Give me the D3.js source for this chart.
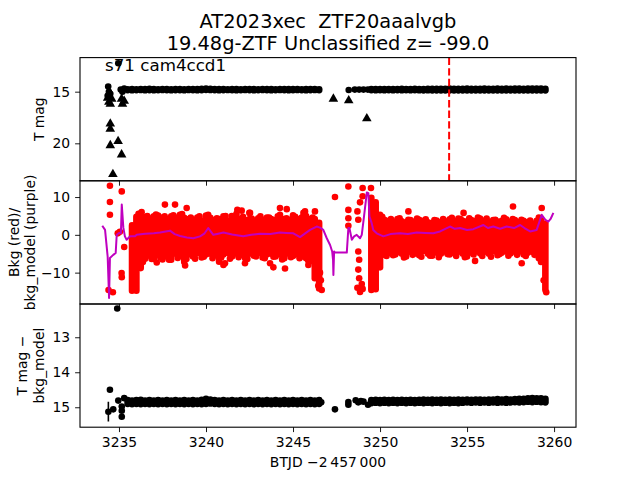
<!DOCTYPE html>
<html><head><meta charset="utf-8">
<script src="https://cdn.jsdelivr.net/npm/d3@7"></script>
<style>body{margin:0;background:#fff}svg{display:block}text{font-family:"DejaVu Sans",sans-serif;fill:#000;white-space:pre}</style>
</head><body><svg id="c" width="640" height="480"></svg>
<script>
// ---------- data ----------
const seg1T = [3235.5,3235.75,3236,3236.25,3236.5,3236.75,3237,3237.25,3237.5,3237.75,
 3238,3238.25,3238.5,3238.75,3239,3239.25,3239.5,3239.75,3240,3240.25,
 3240.5,3240.75,3241,3241.25,3241.5,3241.75,3242,3242.25,3242.5,3242.75,
 3243,3243.25,3243.5,3243.75,3244,3244.25,3244.5,3244.75,3245,3245.25,
 3245.5,3245.75,3246,3246.25,3246.5];
const seg2T = [3249.5,3249.75,3250,3250.25,3250.5,3250.75,3251,3251.25,3251.5,3251.75,
 3252,3252.25,3252.5,3252.75,3253,3253.25,3253.5,3253.75,3254,3254.25,
 3254.5,3254.75,3255,3255.25,3255.5,3255.75,3256,3256.25,3256.5,3256.75,
 3257,3257.25,3257.5,3257.75,3258,3258.25,3258.5,3258.75,3259,3259.25,3259.5];

// Panel 1: T mag band (bright edge / faint edge)
const tmag1Lo = [14.77,14.76,14.77,14.75,14.76,14.74,14.76,14.77,14.75,14.76,
 14.77,14.76,14.75,14.77,14.76,14.76,14.75,14.74,14.70,14.72,
 14.76,14.75,14.76,14.77,14.75,14.76,14.77,14.76,14.75,14.76,
 14.77,14.76,14.75,14.76,14.77,14.75,14.76,14.76,14.75,14.76,
 14.77,14.76,14.75,14.76,14.77];
const tmag1Hi = [14.84,14.85,14.84,14.83,14.85,14.84,14.85,14.84,14.83,14.84,
 14.85,14.84,14.84,14.85,14.83,14.84,14.85,14.84,14.82,14.83,
 14.84,14.85,14.84,14.83,14.84,14.85,14.84,14.83,14.84,14.85,
 14.84,14.83,14.84,14.85,14.84,14.83,14.84,14.85,14.84,14.83,
 14.84,14.85,14.84,14.83,14.84];
const tmag2Lo = [14.75,14.76,14.75,14.76,14.75,14.76,14.75,14.74,14.76,14.75,
 14.74,14.76,14.75,14.74,14.73,14.72,14.73,14.72,14.71,14.72,
 14.73,14.72,14.71,14.72,14.73,14.72,14.71,14.72,14.73,14.71,
 14.72,14.71,14.72,14.70,14.71,14.72,14.70,14.71,14.70,14.71,14.72];
const tmag2Hi = [14.84,14.85,14.84,14.85,14.84,14.85,14.84,14.85,14.84,14.85,
 14.84,14.85,14.86,14.85,14.86,14.87,14.86,14.87,14.86,14.87,
 14.86,14.87,14.86,14.87,14.86,14.87,14.86,14.87,14.86,14.87,
 14.86,14.87,14.86,14.87,14.86,14.87,14.86,14.87,14.86,14.87,14.86];
const tmagDetT = [3234.38,3234.42,3234.5,3234.35,3234.96,3235.1,3235.2,3235.3,3248.2,3248.55,3248.8,3249.05,3249.3];
const tmagDetV = [14.5,15.0,15.2,15.4,12.25,14.8,15.0,14.7,14.84,14.8,14.8,14.8,14.8];
const limitT = [3234.35,3234.42,3234.5,3234.58,3235.15,3235.2,3235.3,3234.5,3234.5,3234.5,3234.95,3235.15,3234.65,3247.32,3248.2,3249.24];
const limitV = [15.6,16.0,16.2,15.7,15.7,16.2,15.9,18.1,18.6,20.2,19.8,21.1,23.0,15.7,15.85,17.6];
const markerT = 3253.97;

// Panel 2: background flux (red) envelope and outliers, model (purple)
const bkg1Lo = [null,-14.8,-14.8,-8.8,-6.3,-5.5,-6.4,-5.2,-6.5,-5.7,
 -6.6,-5.0,-5.5,-7.2,-5.2,-5.7,-4.8,-6.0,-5.2,-5.0,
 -5.4,-7.1,-5.2,-4.8,-5.7,-5.0,-5.2,-6.2,-5.0,-5.5,
 -4.8,-6.0,-5.2,-5.0,-5.7,-5.2,-6.2,-5.0,-5.6,-5.2,
 -5.7,-6.2,-7.0,-11.5,-14.2];
const bkg1Hi = [null,2.5,4.8,5.2,4.7,4.4,4.9,5.1,4.6,4.2,
 4.9,4.6,5.3,4.5,4.2,4.0,4.6,3.8,5.1,4.5,
 3.9,4.2,4.9,3.8,4.2,5.6,4.2,3.9,4.2,3.8,
 4.4,4.0,4.6,4.2,3.9,5.3,4.2,4.0,5.2,4.2,
 4.6,5.0,4.2,4.2,3.2];
const bkg2Lo = [-14.6,-14.4,-8.6,-5.3,-4.8,-5.4,-4.6,-5.0,-5.7,-4.5,
 -4.9,-5.4,-4.3,-5.0,-5.5,-4.7,-5.0,-4.4,-5.2,-4.8,
 -4.5,-5.0,-5.7,-4.7,-4.4,-4.9,-4.5,-5.0,-4.4,-5.4,
 -4.7,-4.4,-4.9,-4.5,-4.4,-5.2,-4.7,-4.5,-4.9,-7.2,-14.5];
const bkg2Hi = [9.8,8.6,5.3,4.0,3.7,3.5,4.2,3.6,3.3,3.9,
 3.5,4.0,3.7,3.3,3.2,3.8,3.4,3.6,4.1,3.6,
 4.3,3.7,3.6,3.9,3.7,4.3,3.8,3.4,3.9,3.5,
 3.7,4.1,3.5,3.9,3.4,3.7,3.4,3.0,3.7,3.9,3.0];
const bkgPtT = [3234.48,3234.48,3234.48,3235.16,3234.93,3235.05,3235.3,3234.4,3234.65,3235.15,3235.16,
 3236.3,3237.64,3238.22,3238.89,3241.48,3241.8,3242.05,3242.49,3242.53,3244.25,3244.64,3245.6,3245.69,3246.26,
 3237.17,3238.8,3241.0,3241.09,3242.24,3243.68,3243.87,3244.54,3245.88,
 3246.45,3246.55,3246.6,3246.65,
 3247.41,3248.18,3248.18,3248.18,3248.18,3248.85,3248.7,3248.75,3248.75,3248.8,3248.75,3248.8,3248.7,3248.85,3249.0,3248.95,3249.0,3249.0,3249.48,
 3251.63,3254.8,3257.64,3259.29,3258.14,3255.46,3259.4,3259.55];
const bkgPtV = [13.0,8.7,5.3,11.5,0.4,0.8,-3.2,-14.6,-15.2,-10.1,-11.2,
 6.0,8.0,8.0,7.1,5.0,6.6,6.4,5.8,5.8,7.1,6.8,5.8,6.2,6.2,
 -7.3,-8.1,-8.0,-7.5,-7.5,-7.5,-8.6,-8.9,-8.0,
 -13.5,-10.0,-12.0,-14.6,
 10.0,12.8,6.6,4.4,2.4,8.6,6.2,4.0,-4.4,-6.6,-9.2,-11.5,-14.0,-15.1,-14.3,-13.0,12.4,10.2,12.4,
 6.2,5.8,7.5,7.1,-7.5,-6.9,-12.0,-15.2];
// points along the ragged band edges
const bkgEdgeT = [3236.125,3236.625,3237.125,3237.625,3238.125,3238.625,3239.125,3239.625,3240.125,3240.625,3241.125,3241.625,3242.125,3242.625,3243.125,3243.625,3244.125,3244.625,3245.125,3245.625,3246.125,
 3236.375,3236.875,3237.375,3237.875,3238.375,3238.875,3239.375,3239.875,3240.375,3240.875,3241.375,3241.875,3242.375,3242.875,3243.375,3243.875,3244.375,3244.875,3245.375,3245.875,
 3250.125,3250.625,3251.125,3251.625,3252.125,3252.625,3253.125,3253.625,3254.125,3254.625,3255.125,3255.625,3256.125,3256.625,3257.125,3257.625,3258.125,3258.625,3259.125,
 3250.375,3250.875,3251.375,3251.875,3252.375,3252.875,3253.375,3253.875,3254.375,3254.875,3255.375,3255.875,3256.375,3256.875,3257.375,3257.875,3258.375,3258.875,3259.125];
const bkgEdgeV = [5.6,5.0,5.4,4.9,5.2,5.5,4.6,4.9,5.3,4.4,5.0,4.7,4.8,4.3,4.9,4.6,4.9,4.4,4.8,5.2,4.6,
 -7.2,-6.4,-6.0,-6.6,-6.1,-6.4,-6.3,-5.8,-6.2,-6.0,-6.3,-5.9,-6.4,-5.7,-6.2,-5.8,-6.5,-5.9,-6.2,-6.8,
 4.8,4.2,4.4,4.0,4.3,4.1,3.9,4.2,4.5,4.2,4.4,4.6,4.3,4.0,4.5,4.2,4.0,3.8,4.6,
 -5.6,-5.2,-6.0,-5.3,-5.8,-5.5,-5.9,-5.1,-5.6,-5.9,-5.2,-5.6,-5.8,-5.1,-5.5,-5.3,-5.6,-5.3,-6.2];
const modelT = [3234.04,3234.2,3234.35,3234.43,3234.48,3234.67,3234.81,3234.87,3235.0,3235.11,3235.16,3235.25,3235.34,3235.44,3235.63,3235.92,
 3236.02,3236.5,3237.0,3237.36,3237.93,3238.2,3238.51,3238.9,3239.27,3239.66,3239.9,3240.13,3240.42,3240.7,3241.0,3241.5,3242.14,3242.6,3243.1,3243.7,3244.25,3244.6,3245.02,3245.4,3245.98,3246.36,3246.55,3246.74,3246.94,3247.13,3247.25,3247.3,3247.32,3247.36,3247.41,3248.09,3248.18,3248.24,3248.38,3248.51,3248.66,3248.85,3248.95,3249.08,3249.24,3249.33,3249.39,3249.52,3249.61,3249.81,
 3250.19,3250.6,3251.15,3251.6,3252.11,3252.6,3253.06,3253.45,3254.02,3254.3,3254.6,3255.0,3255.36,3255.94,3256.2,3256.51,3256.9,3257.28,3257.7,3258.05,3258.3,3258.62,3259.0,3259.29,3259.5,3259.67,3259.8,3259.96];
const modelV = [2.4,1.3,-5.8,-16.7,-6.1,-5.3,-4.8,0,0.5,0.4,8.0,1.9,-0.4,-1.3,-0.4,-0.4,
 0,0.3,0.4,0.6,1.1,0.2,-0.3,-0.7,-0.9,-0.4,0.3,1.8,0,0.3,0.6,0.1,-0.4,0,0.3,0.2,0.6,0.5,0.4,-0.6,1.3,2.2,1.9,1.3,-0.9,-2.7,-4.4,-6.6,-10.6,-4.4,-4.7,-4.7,1.8,1.8,-1.3,-0.4,0,-0.9,0,4.9,11.2,11.0,4.9,3.1,1.3,0.4,
 -0.4,0.2,0.4,0.2,0.6,0.5,0.4,0.9,2.2,1.6,1.8,1.3,1.5,2.6,1.8,2.2,1.6,2.2,1.8,2.6,1.8,0.9,1.3,5.3,4.0,3.5,4.2,5.8];

// Panel 3: T mag - bkg_model
const diff1Lo = [14.80,14.81,14.80,14.79,14.81,14.80,14.81,14.80,14.81,14.80,
 14.81,14.80,14.81,14.80,14.81,14.80,14.81,14.79,14.76,14.78,
 14.80,14.81,14.80,14.81,14.80,14.81,14.80,14.81,14.80,14.81,
 14.80,14.81,14.80,14.81,14.80,14.81,14.80,14.81,14.80,14.81,
 14.80,14.81,14.80,14.81,14.80];
const diff1Hi = [14.90,14.91,14.90,14.91,14.90,14.91,14.90,14.91,14.90,14.91,
 14.90,14.91,14.90,14.91,14.90,14.91,14.90,14.91,14.90,14.89,
 14.90,14.91,14.90,14.91,14.90,14.91,14.90,14.91,14.90,14.91,
 14.90,14.91,14.90,14.91,14.90,14.91,14.90,14.91,14.90,14.91,
 14.90,14.91,14.90,14.91,14.90];
const diff2Lo = [14.80,14.79,14.80,14.79,14.80,14.79,14.80,14.79,14.80,14.79,
 14.80,14.79,14.78,14.79,14.78,14.79,14.78,14.79,14.78,14.79,
 14.78,14.79,14.78,14.79,14.78,14.78,14.79,14.78,14.78,14.77,
 14.78,14.77,14.78,14.77,14.76,14.76,14.75,14.74,14.75,14.75,14.76];
const diff2Hi = [14.88,14.87,14.88,14.87,14.88,14.87,14.88,14.87,14.88,14.87,
 14.88,14.87,14.88,14.87,14.88,14.87,14.88,14.87,14.88,14.87,
 14.88,14.87,14.86,14.87,14.86,14.87,14.86,14.87,14.86,14.87,
 14.86,14.87,14.86,14.85,14.86,14.85,14.84,14.85,14.84,14.85,14.86];
const diffPtT = [3234.39,3234.48,3234.67,3234.9,3234.96,3235.16,3235.16,3235.16,3235.3,3246.62,3247.41,3248.18,3248.18,3248.6,3248.75,3248.9,3249.05,3249.31];
const diffPtV = [15.13,14.5,15.06,12.18,14.81,14.98,15.1,15.27,14.74,14.86,15.06,14.85,14.93,14.8,14.86,14.82,14.84,14.93];
const errT = [3234.39], errLo = [14.84], errHi = [15.41];

const xTicks = [3235,3240,3245,3250,3255,3260];
const y1Ticks = [15,20], y2Ticks = [-10,0,10], y3Ticks = [13,14,15];
const titleLines = ["AT2023xec  ZTF20aaalvgb", "19.48g-ZTF Unclassified z= -99.0"];
const panelText = "s71 cam4ccd1";

// ---------- layout ----------
const L = 80, R = 576, T1 = 57.6, B1 = 180.8, B2 = 304.0, B3 = 427.2;
const svg = d3.select("#c");
const x = d3.scaleLinear().domain([3232.76, 3261.26]).range([L, R]);
const y1 = d3.scaleLinear().domain([11.7, 23.63]).range([T1, B1]);
const y2 = d3.scaleLinear().domain([-18.3, 14.3]).range([B2, B1]);
const y3 = d3.scaleLinear().domain([12.05, 15.57]).range([B2, B3]);
const fmt = d => String(d).replace("-", "\u2212");

const defs = svg.append("defs");
[[T1,B1],[B1,B2],[B2,B3]].forEach((p,i)=>{
  defs.append("clipPath").attr("id","cp"+i).append("rect")
    .attr("x",L).attr("y",p[0]).attr("width",R-L).attr("height",p[1]-p[0]);
});
const g1 = svg.append("g").attr("clip-path","url(#cp0)");
const g2 = svg.append("g").attr("clip-path","url(#cp1)");
const g3 = svg.append("g").attr("clip-path","url(#cp2)");

function band(g, ts, lo, hi, ys, color, w){
  ts.forEach((t,i)=>{
    if(lo[i]==null) return;
    g.append("line").attr("x1",x(t)).attr("x2",x(t))
      .attr("y1",ys(lo[i])).attr("y2",ys(hi[i]))
      .attr("stroke",color).attr("stroke-width",w).attr("stroke-linecap","round");
  });
}
function dots(g, ts, vs, ys, color, r){
  g.selectAll(null).data(ts).enter().append("circle")
    .attr("cx",(d)=>x(d)).attr("cy",(d,i)=>ys(vs[i])).attr("r",r).attr("fill",color);
}

// panel 1
band(g1, seg1T, tmag1Lo, tmag1Hi, y1, "#000", 6.8);
band(g1, seg2T, tmag2Lo, tmag2Hi, y1, "#000", 6.8);
dots(g1, tmagDetT, tmagDetV, y1, "#000", 3.3);
const tri = d3.symbol().type(d3.symbolTriangle).size(40);
g1.selectAll(null).data(limitT).enter().append("path")
  .attr("d", tri).attr("fill","#000")
  .attr("transform",(d,i)=>`translate(${x(d)},${y1(limitV[i])})`);
g1.append("line").attr("x1",x(markerT)).attr("x2",x(markerT)).attr("y1",T1).attr("y2",B1)
  .attr("stroke","#f00").attr("stroke-width",2).attr("stroke-dasharray","7.4,3.2");

// panel 2
band(g2, seg1T, bkg1Lo, bkg1Hi, y2, "#f00", 6.6);
band(g2, seg2T, bkg2Lo, bkg2Hi, y2, "#f00", 6.6);
dots(g2, bkgEdgeT, bkgEdgeV, y2, "#f00", 3.3);
dots(g2, bkgPtT, bkgPtV, y2, "#f00", 3.3);
g2.append("path").datum(modelT.map((t,i)=>[t,modelV[i]]))
  .attr("d", d3.line().x(d=>x(d[0])).y(d=>y2(d[1])))
  .attr("fill","none").attr("stroke","#bf00bf").attr("stroke-width",2).attr("stroke-linejoin","round");

// panel 3
band(g3, seg1T, diff1Lo, diff1Hi, y3, "#000", 6.8);
band(g3, seg2T, diff2Lo, diff2Hi, y3, "#000", 6.8);
dots(g3, diffPtT, diffPtV, y3, "#000", 3.3);
errT.forEach((t,i)=>{
  g3.append("line").attr("x1",x(t)).attr("x2",x(t)).attr("y1",y3(errLo[i])).attr("y2",y3(errHi[i]))
    .attr("stroke","#000").attr("stroke-width",1.6);
});

// axes
function styleAxis(a){
  a.select(".domain").remove();
  a.selectAll(".tick line").attr("stroke","#000").attr("stroke-width",0.9);
  a.selectAll(".tick text").attr("font-size","13.9px").attr("font-family","DejaVu Sans").attr("fill","#000");
}
[[B1,false],[B2,false],[B3,true]].forEach(([yy,lab])=>{
  const ax = svg.append("g").attr("transform",`translate(0,${yy})`)
    .call(d3.axisBottom(x).tickValues(xTicks).tickSize(4.9).tickPadding(4.9).tickFormat(lab? d3.format("d") : ""));
  styleAxis(ax);
});
[[y1,y1Ticks],[y2,y2Ticks],[y3,y3Ticks]].forEach(([s,tv])=>{
  const ax = svg.append("g").attr("transform",`translate(${L},0)`)
    .call(d3.axisLeft(s).tickValues(tv).tickSize(4.9).tickPadding(4.9).tickFormat(fmt));
  styleAxis(ax);
});

// frames
[[T1,B1],[B1,B2],[B2,B3]].forEach(p=>{
  svg.append("rect").attr("x",L).attr("y",p[0]).attr("width",R-L).attr("height",p[1]-p[0])
    .attr("fill","none").attr("stroke","#000").attr("stroke-width",1.1);
});

// texts
const cx = (L+R)/2;
svg.append("text").attr("x",cx).attr("y",28).attr("text-anchor","middle").attr("font-size","19.4px").text(titleLines[0]);
svg.append("text").attr("x",cx).attr("y",49.5).attr("text-anchor","middle").attr("font-size","19.4px").text(titleLines[1]);
svg.append("text").attr("x",105).attr("y",71).attr("font-size","16.7px").text(panelText);
svg.append("text").attr("x",cx).attr("y",467).attr("text-anchor","middle").attr("font-size","13.9px")
  .text("BTJD \u22122\u2009457\u2009000");
function ylab(lines, xs, yc){
  lines.forEach((s,i)=>{
    svg.append("text").attr("transform",`translate(${xs[i]},${yc}) rotate(-90)`)
      .attr("text-anchor","middle").attr("font-size","13.9px").text(s);
  });
}
ylab(["T mag"], [44], (T1+B1)/2);
ylab(["Bkg (red)/","bkg_model (purple)"], [18.5, 35], (B1+B2)/2);
ylab(["T mag \u2212","bkg_model"], [26.5, 43.5], (B2+B3)/2);
</script></body></html>
